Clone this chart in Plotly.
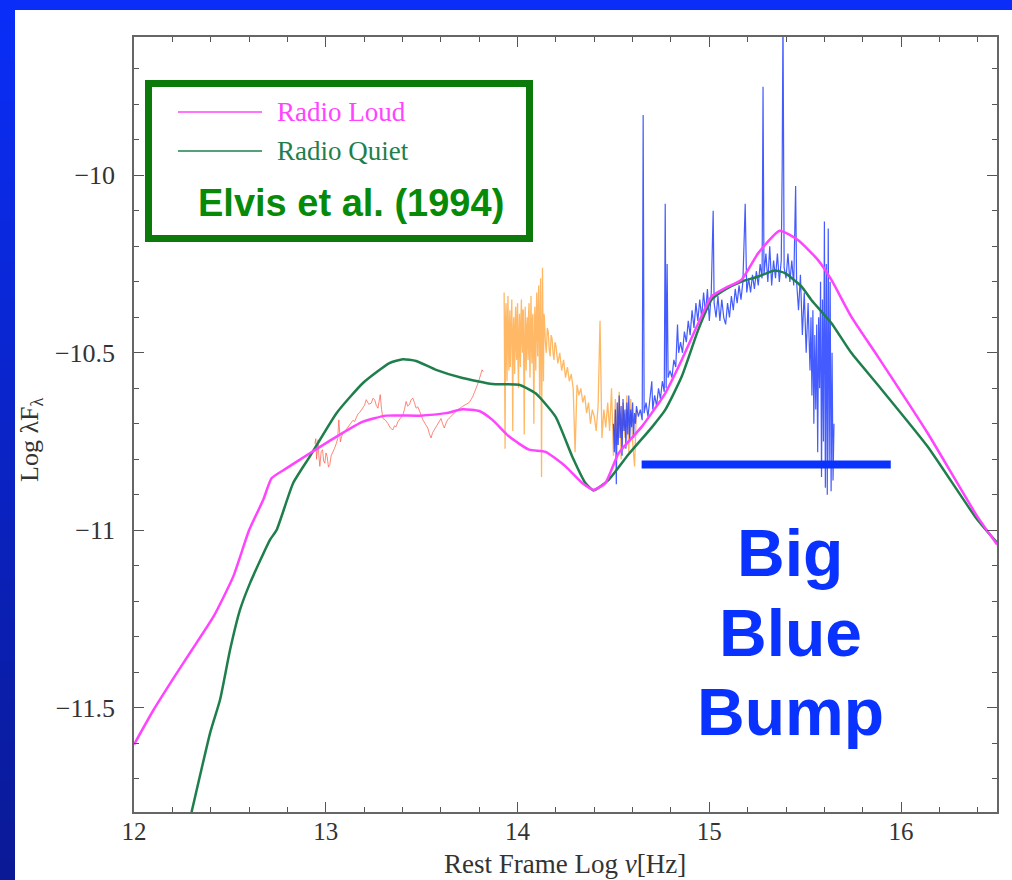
import plotly.graph_objects as go

# ---------------- data ----------------
rl_x = [12.00, 12.10, 12.207, 12.30, 12.415, 12.518, 12.60, 12.674, 12.718, 12.796, 12.917,
        13.056, 13.194, 13.315, 13.488, 13.627, 13.713, 13.80, 13.869, 13.956, 14.06, 14.146,
        14.25, 14.337, 14.397, 14.458, 14.527, 14.648, 14.77, 14.856, 14.943, 15.012, 15.081,
        15.168, 15.255, 15.367, 15.462, 15.566, 15.636, 15.74, 15.878, 16.138, 16.397, 16.5]
rl_y = [-11.604, -11.508, -11.416, -11.339, -11.243, -11.130, -11.000, -10.914, -10.853, -10.825, -10.783,
        -10.736, -10.694, -10.677, -10.677, -10.670, -10.659, -10.664, -10.689, -10.736, -10.773, -10.779,
        -10.820, -10.867, -10.886, -10.867, -10.783, -10.708, -10.614, -10.520, -10.416, -10.341, -10.318,
        -10.294, -10.219, -10.156, -10.182, -10.238, -10.294, -10.398, -10.510, -10.726, -10.961, -11.040]

rq_x = [12.28, 12.299, 12.397, 12.449, 12.501, 12.553, 12.605, 12.709, 12.744, 12.83, 12.917,
        13.056, 13.194, 13.332, 13.402, 13.471, 13.575, 13.713, 13.869, 14.008, 14.094, 14.198,
        14.285, 14.354, 14.397, 14.475, 14.579, 14.70, 14.77, 14.856, 14.943, 15.012, 15.081,
        15.168, 15.255, 15.341, 15.393, 15.48, 15.532, 15.636, 15.74, 15.878, 16.138, 16.397, 16.5]
rq_y = [-11.840, -11.797, -11.571, -11.477, -11.337, -11.224, -11.149, -11.027, -10.999, -10.867, -10.792,
        -10.670, -10.585, -10.529, -10.518, -10.523, -10.548, -10.571, -10.588, -10.590, -10.614, -10.680,
        -10.792, -10.867, -10.888, -10.858, -10.786, -10.710, -10.661, -10.567, -10.434, -10.350, -10.322,
        -10.299, -10.285, -10.268, -10.275, -10.313, -10.351, -10.416, -10.500, -10.590, -10.764, -10.970, -11.035]

ir_x = [12.943, 12.948, 12.952, 12.956, 12.960, 12.964, 12.969, 12.976, 12.983, 12.989, 12.995, 13.001,
        13.007, 13.014, 13.021, 13.028, 13.035, 13.045, 13.055, 13.062, 13.068, 13.072, 13.076, 13.083,
        13.090, 13.099, 13.108, 13.116, 13.125, 13.133, 13.142, 13.150, 13.159, 13.168, 13.177, 13.185,
        13.194, 13.202, 13.211, 13.224, 13.237, 13.246, 13.255, 13.263, 13.272, 13.278, 13.284, 13.291,
        13.298, 13.311, 13.324, 13.337, 13.350, 13.358, 13.367, 13.375, 13.384, 13.393, 13.402, 13.410,
        13.419, 13.427, 13.436, 13.445, 13.454, 13.462, 13.471, 13.480, 13.488, 13.497, 13.506, 13.519,
        13.532, 13.540, 13.549, 13.557, 13.566, 13.575, 13.583, 13.592, 13.601, 13.609, 13.618, 13.627,
        13.635, 13.644, 13.653, 13.661, 13.670, 13.678, 13.687, 13.700, 13.713, 13.726, 13.739, 13.748,
        13.757, 13.765, 13.774, 13.783, 13.791, 13.800, 13.809, 13.815, 13.821]
ir_y = [-10.756, -10.742, -10.800, -10.760, -10.745, -10.790, -10.820, -10.778, -10.773, -10.805, -10.811, -10.782,
        -10.792, -10.822, -10.815, -10.790, -10.783, -10.770, -10.755, -10.742, -10.689, -10.740, -10.751, -10.735,
        -10.726, -10.722, -10.715, -10.708, -10.703, -10.698, -10.690, -10.694, -10.680, -10.672, -10.668, -10.662,
        -10.656, -10.648, -10.632, -10.645, -10.642, -10.628, -10.632, -10.648, -10.656, -10.630, -10.618, -10.660,
        -10.685, -10.690, -10.699, -10.712, -10.717, -10.706, -10.708, -10.695, -10.689, -10.682, -10.675, -10.660,
        -10.637, -10.650, -10.646, -10.632, -10.628, -10.640, -10.656, -10.652, -10.661, -10.675, -10.689, -10.700,
        -10.712, -10.728, -10.740, -10.725, -10.717, -10.708, -10.699, -10.690, -10.685, -10.700, -10.712, -10.698,
        -10.689, -10.684, -10.680, -10.674, -10.670, -10.666, -10.661, -10.656, -10.651, -10.647, -10.642, -10.640,
        -10.632, -10.625, -10.613, -10.602, -10.590, -10.575, -10.562, -10.548, -10.553]

opt_x = [13.930, 13.9325, 13.935, 13.9375, 13.940, 13.9425, 13.945, 13.9475, 13.950, 13.9525, 13.955, 13.9575,
         13.960, 13.9625, 13.965, 13.9675, 13.970, 13.9725, 13.975, 13.9775, 13.980, 13.9825, 13.985, 13.9875,
         13.990, 13.9925, 13.995, 13.9975, 14.000, 14.0025, 14.005, 14.0075, 14.010, 14.0125, 14.015, 14.0175,
         14.020, 14.0225, 14.025, 14.0275, 14.030, 14.0325, 14.035, 14.0375, 14.040, 14.0425, 14.045, 14.0475,
         14.050, 14.0525, 14.055, 14.0575, 14.060, 14.0625, 14.065, 14.0675, 14.070, 14.0725, 14.075, 14.0775,
         14.080, 14.0825, 14.085, 14.0875, 14.090, 14.0925, 14.095, 14.0975, 14.100, 14.1025, 14.105, 14.1075,
         14.110, 14.1125, 14.115, 14.1175, 14.120, 14.1225, 14.125, 14.1275, 14.130, 14.1325, 14.135, 14.1375,
         14.140, 14.145, 14.150, 14.155, 14.160, 14.165, 14.170, 14.175, 14.180, 14.185, 14.190, 14.195,
         14.20, 14.21, 14.22, 14.23, 14.24, 14.25, 14.26, 14.27, 14.28, 14.29, 14.30, 14.31,
         14.32, 14.33, 14.34, 14.35, 14.36, 14.37, 14.38, 14.39, 14.40, 14.41, 14.42, 14.43,
         14.44, 14.45, 14.46, 14.47, 14.48, 14.49, 14.50, 14.51, 14.52, 14.53, 14.54, 14.55,
         14.56, 14.57, 14.58, 14.59, 14.60, 14.61, 14.62]
opt_y = [-10.33, -10.52, -10.77, -10.40, -10.36, -10.50, -10.58, -10.41, -10.34, -10.47, -10.55, -10.43,
         -10.38, -10.54, -10.49, -10.39, -10.35, -10.51, -10.72, -10.44, -10.40, -10.49, -10.56, -10.42,
         -10.37, -10.48, -10.52, -10.40, -10.36, -10.53, -10.60, -10.45, -10.39, -10.50, -10.54, -10.41,
         -10.35, -10.46, -10.50, -10.38, -10.38, -10.55, -10.73, -10.47, -10.37, -10.49, -10.55, -10.43,
         -10.40, -10.47, -10.52, -10.39, -10.36, -10.50, -10.57, -10.44, -10.34, -10.46, -10.53, -10.41,
         -10.39, -10.52, -10.70, -10.48, -10.37, -10.45, -10.55, -10.40, -10.33, -10.44, -10.51, -10.38,
         -10.31, -10.45, -10.62, -10.42, -10.29, -10.48, -10.85, -10.50, -10.26, -10.42, -10.58, -10.39,
         -10.40, -10.47, -10.50, -10.43, -10.44, -10.49, -10.51, -10.45, -10.46, -10.50, -10.52, -10.47,
         -10.48, -10.53, -10.50, -10.55, -10.52, -10.57, -10.54, -10.58, -10.56, -10.60, -10.78, -10.59,
         -10.62, -10.60, -10.64, -10.62, -10.67, -10.64, -10.70, -10.66, -10.68, -10.72, -10.65, -10.41,
         -10.74, -10.66, -10.71, -10.64, -10.72, -10.60, -10.79, -10.63, -10.76, -10.61, -10.80, -10.64,
         -10.74, -10.62, -10.78, -10.63, -10.75, -10.82, -10.66]

uv_x = [14.500, 14.505, 14.510, 14.515, 14.520, 14.525, 14.530, 14.535, 14.540, 14.545, 14.550, 14.555,
        14.560, 14.565, 14.570, 14.575, 14.580, 14.585, 14.590, 14.595, 14.600, 14.605, 14.610, 14.615,
        14.620, 14.630, 14.640, 14.650, 14.655, 14.660, 14.670, 14.680, 14.690, 14.700, 14.705, 14.715,
        14.725, 14.735, 14.745, 14.755, 14.765, 14.770, 14.775, 14.780, 14.785, 14.795, 14.805, 14.815,
        14.825, 14.834, 14.840, 14.850, 14.860, 14.870, 14.880, 14.890, 14.900, 14.910, 14.920, 14.930,
        14.940, 14.950, 14.960, 14.970, 14.980, 14.990, 15.000, 15.010, 15.020, 15.025, 15.035, 15.045,
        15.055, 15.065, 15.075, 15.085, 15.095, 15.105, 15.115, 15.125, 15.135, 15.145, 15.155, 15.165,
        15.175, 15.187, 15.195, 15.205, 15.215, 15.225, 15.235, 15.245, 15.255, 15.265, 15.275, 15.280,
        15.285, 15.295, 15.305, 15.315, 15.325, 15.335, 15.345, 15.355, 15.365, 15.375, 15.380, 15.384,
        15.390, 15.400, 15.410, 15.420, 15.430, 15.440, 15.450, 15.455, 15.465, 15.475, 15.485, 15.495,
        15.505, 15.515, 15.525, 15.530, 15.535, 15.540, 15.545, 15.550, 15.555, 15.560, 15.565, 15.570,
        15.575, 15.580, 15.585, 15.590, 15.595, 15.600, 15.605, 15.610, 15.615, 15.620, 15.625, 15.630,
        15.635, 15.640, 15.645, 15.650]
uv_y = [-10.70, -10.78, -10.66, -10.87, -10.64, -10.76, -10.62, -10.74, -10.65, -10.79, -10.63, -10.72,
        -10.66, -10.77, -10.64, -10.73, -10.62, -10.75, -10.66, -10.71, -10.64, -10.74, -10.67, -10.70,
        -10.65, -10.68, -10.66, -10.69, -9.83, -10.67, -10.64, -10.68, -10.63, -10.58, -10.66, -10.62,
        -10.65, -10.60, -10.63, -10.58, -10.61, -10.08, -10.60, -10.25, -10.57, -10.55, -10.57, -10.52,
        -10.54, -10.42, -10.50, -10.47, -10.50, -10.44, -10.47, -10.41, -10.45, -10.38, -10.43, -10.36,
        -10.41, -10.35, -10.40, -10.33, -10.39, -10.32, -10.41, -10.33, -10.10, -10.36, -10.40, -10.34,
        -10.41, -10.35, -10.40, -10.42, -10.36, -10.40, -10.34, -10.38, -10.32, -10.36, -10.31, -10.35,
        -10.30, -10.08, -10.33, -10.29, -10.33, -10.28, -10.32, -10.27, -10.31, -10.25, -10.29, -9.75,
        -10.28, -10.22, -10.30, -10.20, -10.31, -10.24, -10.29, -10.22, -10.30, -10.24, -9.97, -9.55,
        -10.26, -10.29, -10.22, -10.30, -10.24, -10.31, -10.03, -10.30, -10.38, -10.28, -10.45, -10.33,
        -10.50, -10.36, -10.55, -10.40, -10.62, -10.38, -10.70, -10.45, -10.66, -10.42, -10.78, -10.40,
        -10.60, -10.30, -10.85, -10.35, -10.75, -10.13, -10.88, -10.25, -10.90, -10.15, -10.82, -10.30,
        -10.89, -10.50, -10.86, -10.70]

x_ticks = [12, 13, 14, 15, 16]
y_ticks = [-10, -10.5, -11, -11.5]
bump_x = [14.647, 15.946]
bump_y = [-10.815, -10.815]

# ---------------- layout geometry ----------------
W, H = 1012, 880
L, R, T, B = 134, 997, 37, 812
XR = [12, 16.5]
YR = [-11.794, -9.610]


def fx(p):
    return (p - L) / (R - L)


def fy(p):
    return (B - p) / (B - T)


SERIF = "Liberation Serif"
MAG = "#ff44ff"
GRN = "#1f7f4c"
BLUE = "#0a32ff"

fig = go.Figure()
fig.add_trace(go.Scatter(x=ir_x, y=ir_y, mode="lines",
                         line=dict(color="rgba(255,95,80,0.75)", width=1), hoverinfo="skip"))
fig.add_trace(go.Scatter(x=opt_x, y=opt_y, mode="lines",
                         line=dict(color="rgba(255,160,50,0.75)", width=1.3), hoverinfo="skip"))
fig.add_trace(go.Scatter(x=uv_x, y=uv_y, mode="lines",
                         line=dict(color="rgba(20,50,255,0.8)", width=1.2), hoverinfo="skip"))
fig.add_trace(go.Scatter(x=rq_x, y=rq_y, mode="lines", name="Radio Quiet",
                         line=dict(color=GRN, width=2.5, shape="spline", smoothing=0.5)))
fig.add_trace(go.Scatter(x=rl_x, y=rl_y, mode="lines", name="Radio Loud",
                         line=dict(color=MAG, width=2.5, shape="spline", smoothing=0.5)))

shapes = []
# slide border: gradient left strip and top strip
n = 44
for i in range(n):
    t = i / (n - 1)
    g = int(46 + (26 - 46) * t)
    b = int(248 + (150 - 248) * t)
    y0p = i * H / n
    y1p = (i + 1) * H / n + 1
    shapes.append(dict(type="rect", xref="paper", yref="paper",
                       x0=fx(0), x1=fx(15), y0=fy(y1p), y1=fy(y0p),
                       fillcolor=f"rgb(10,{g},{b})", line=dict(width=0), layer="below"))
shapes.append(dict(type="rect", xref="paper", yref="paper",
                   x0=fx(0), x1=fx(W), y0=fy(10), y1=fy(0),
                   fillcolor="rgb(10,46,248)", line=dict(width=0), layer="below"))
# legend frame
shapes.append(dict(type="rect", xref="paper", yref="paper",
                   x0=fx(148.5), x1=fx(529.5), y0=fy(238.5), y1=fy(83.5),
                   fillcolor="white", line=dict(color="#0b7a0b", width=7), layer="above"))
shapes.append(dict(type="line", xref="paper", yref="paper",
                   x0=fx(178), x1=fx(262), y0=fy(112), y1=fy(112),
                   line=dict(color=MAG, width=1.5), layer="above"))
shapes.append(dict(type="line", xref="paper", yref="paper",
                   x0=fx(178), x1=fx(262), y0=fy(151), y1=fy(151),
                   line=dict(color=GRN, width=1.5), layer="above"))
# Big Blue Bump bar
shapes.append(dict(type="line", xref="x", yref="y",
                   x0=bump_x[0], x1=bump_x[1], y0=bump_y[0], y1=bump_y[1],
                   line=dict(color=BLUE, width=8), layer="above"))

annotations = [
    dict(text="Radio Loud", xref="paper", yref="paper", x=fx(275), y=fy(112),
         xanchor="left", yanchor="middle", showarrow=False,
         font=dict(family=SERIF, size=27, color=MAG)),
    dict(text="Radio Quiet", xref="paper", yref="paper", x=fx(275), y=fy(151),
         xanchor="left", yanchor="middle", showarrow=False,
         font=dict(family=SERIF, size=27, color=GRN)),
    dict(text="<b>Elvis et al. (1994)</b>", xref="paper", yref="paper", x=fx(351), y=fy(203),
         xanchor="center", yanchor="middle", showarrow=False,
         font=dict(family="Liberation Sans", size=38, color="#078a07")),
    dict(text="Rest Frame Log <i>ν</i>[Hz]", xref="paper", yref="paper", x=fx(565), y=fy(864),
         xanchor="center", yanchor="middle", showarrow=False,
         font=dict(family=SERIF, size=27, color="#333")),
    dict(text="Log λF<sub>λ</sub>", xref="paper", yref="paper", x=fx(31), y=fy(440),
         xanchor="center", yanchor="middle", showarrow=False, textangle=-90,
         font=dict(family=SERIF, size=26, color="#333")),
]
for word, yy in [("Big", 553), ("Blue", 633), ("Bump", 712)]:
    annotations.append(dict(text=f"<b>{word}</b>", xref="paper", yref="paper", x=fx(790), y=fy(yy),
                            xanchor="center", yanchor="middle", showarrow=False,
                            font=dict(family="Liberation Sans", size=66, color=BLUE)))

axis_common = dict(ticks="inside", ticklen=10, tickwidth=1.2, tickcolor="#555",
                   showline=True, linecolor="#666", linewidth=1.5, mirror="allticks",
                   showgrid=False, zeroline=False)

fig.update_layout(
    width=W, height=H,
    margin=dict(l=L, r=W - R, t=T, b=H - B, autoexpand=False),
    paper_bgcolor="white", plot_bgcolor="white",
    showlegend=False,
    shapes=shapes, annotations=annotations,
    xaxis=dict(range=XR, tickmode="array", tickvals=x_ticks, ticktext=[str(v) for v in x_ticks],
               minor=dict(dtick=0.2, tick0=12, ticks="inside", ticklen=5, tickwidth=1.2,
                          tickcolor="#555", showgrid=False),
               ticklabelstandoff=-4,
               tickfont=dict(family=SERIF, size=25, color="#333"),
               **axis_common),
    yaxis=dict(range=YR, tickmode="array", tickvals=y_ticks,
               ticktext=["\u221210", "\u221210.5", "\u221211", "\u221211.5"],
               minor=dict(dtick=0.1, tick0=-10, ticks="inside", ticklen=5, tickwidth=1.2,
                          tickcolor="#555", showgrid=False),
               ticklabelstandoff=12,
               tickfont=dict(family=SERIF, size=26, color="#333"),
               **axis_common),
)

fig.write_html("out.html")
